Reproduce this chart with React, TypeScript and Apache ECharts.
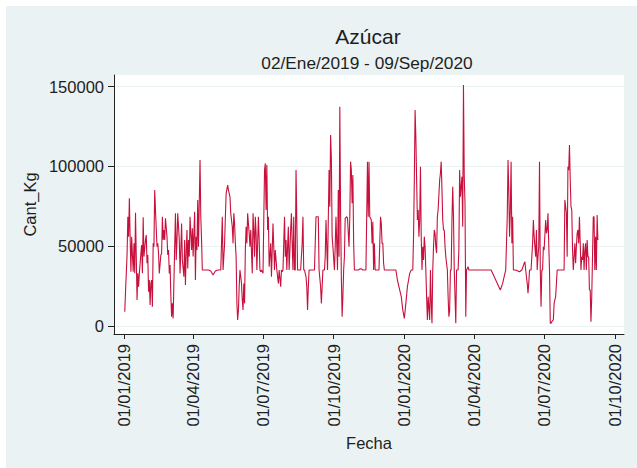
import React, { useEffect, useRef } from "react";
import * as echarts from "echarts";

const titleText = "Azúcar";
const subtitleText = "02/Ene/2019 - 09/Sep/2020";
const xAxisName = "Fecha";
const yAxisName = "Cant_Kg";

const fechas = [
  "2019-01-02","2019-01-03","2019-01-05","2019-01-06","2019-01-07","2019-01-08","2019-01-09","2019-01-10","2019-01-11","2019-01-12",
  "2019-01-13","2019-01-14","2019-01-15","2019-01-16","2019-01-17","2019-01-18","2019-01-19","2019-01-20","2019-01-21","2019-01-23",
  "2019-01-24","2019-01-25","2019-01-26","2019-01-27","2019-01-29","2019-01-30","2019-01-31","2019-02-01","2019-02-02","2019-02-03",
  "2019-02-04","2019-02-05","2019-02-06","2019-02-07","2019-02-08","2019-02-09","2019-02-10","2019-02-11","2019-02-13","2019-02-14",
  "2019-02-15","2019-02-16","2019-02-18","2019-02-19","2019-02-20","2019-02-21","2019-02-22","2019-02-23","2019-02-24","2019-02-26",
  "2019-02-27","2019-02-28","2019-03-01","2019-03-02","2019-03-03","2019-03-04","2019-03-05","2019-03-06","2019-03-08","2019-03-09",
  "2019-03-10","2019-03-11","2019-03-12","2019-03-14","2019-03-15","2019-03-16","2019-03-17","2019-03-18","2019-03-20","2019-03-21",
  "2019-03-22","2019-03-23","2019-03-24","2019-03-25","2019-03-26","2019-03-27","2019-03-28","2019-03-30","2019-03-31","2019-04-01",
  "2019-04-03","2019-04-04","2019-04-05","2019-04-06","2019-04-07","2019-04-08","2019-04-10","2019-04-11","2019-04-12","2019-04-13",
  "2019-04-16","2019-04-21","2019-04-24","2019-04-27","2019-04-30","2019-05-03","2019-05-07","2019-05-09","2019-05-10","2019-05-12",
  "2019-05-13","2019-05-14","2019-05-16","2019-05-17","2019-05-19","2019-05-20","2019-05-22","2019-05-23","2019-05-24","2019-05-25",
  "2019-05-26","2019-05-27","2019-05-28","2019-05-29","2019-05-30","2019-05-31","2019-06-01","2019-06-03","2019-06-04","2019-06-05",
  "2019-06-06","2019-06-07","2019-06-08","2019-06-09","2019-06-10","2019-06-11","2019-06-13","2019-06-14","2019-06-15","2019-06-17",
  "2019-06-18","2019-06-19","2019-06-20","2019-06-21","2019-06-22","2019-06-23","2019-06-25","2019-06-26","2019-06-27","2019-06-28",
  "2019-06-29","2019-07-01","2019-07-02","2019-07-03","2019-07-04","2019-07-05","2019-07-06","2019-07-07","2019-07-08","2019-07-09",
  "2019-07-11","2019-07-12","2019-07-13","2019-07-14","2019-07-15","2019-07-16","2019-07-17","2019-07-18","2019-07-19","2019-07-20",
  "2019-07-21","2019-07-22","2019-07-24","2019-07-25","2019-07-26","2019-07-27","2019-07-29","2019-07-30","2019-07-31","2019-08-01",
  "2019-08-02","2019-08-03","2019-08-04","2019-08-06","2019-08-07","2019-08-08","2019-08-09","2019-08-10","2019-08-11","2019-08-12",
  "2019-08-13","2019-08-14","2019-08-15","2019-08-17","2019-08-19","2019-08-21","2019-08-22","2019-08-23","2019-08-24","2019-08-26",
  "2019-08-27","2019-08-28","2019-08-29","2019-08-30","2019-09-01","2019-09-04","2019-09-06","2019-09-07","2019-09-08","2019-09-10",
  "2019-09-11","2019-09-12","2019-09-14","2019-09-15","2019-09-16","2019-09-17","2019-09-19","2019-09-20","2019-09-21","2019-09-22",
  "2019-09-23","2019-09-25","2019-09-26","2019-09-27","2019-09-28","2019-09-29","2019-09-30","2019-10-02","2019-10-03","2019-10-04",
  "2019-10-06","2019-10-07","2019-10-08","2019-10-09","2019-10-10","2019-10-11","2019-10-12","2019-10-13","2019-10-14","2019-10-15",
  "2019-10-16","2019-10-18","2019-10-19","2019-10-21","2019-10-22","2019-10-23","2019-10-24","2019-10-25","2019-10-26","2019-10-27",
  "2019-10-28","2019-10-29","2019-10-31","2019-11-02","2019-11-04","2019-11-06","2019-11-08","2019-11-10","2019-11-12","2019-11-13",
  "2019-11-14","2019-11-15","2019-11-16","2019-11-17","2019-11-19","2019-11-20","2019-11-21","2019-11-22","2019-11-23","2019-11-24",
  "2019-11-25","2019-11-27","2019-11-29","2019-12-01","2019-12-02","2019-12-03","2019-12-04","2019-12-05","2019-12-06","2019-12-12",
  "2019-12-17","2019-12-21","2019-12-23","2019-12-28","2019-12-30","2020-01-01","2020-01-03","2020-01-05","2020-01-08","2020-01-10",
  "2020-01-12","2020-01-13","2020-01-14","2020-01-15","2020-01-16","2020-01-17","2020-01-18","2020-01-19","2020-01-20","2020-01-21",
  "2020-01-22","2020-01-23","2020-01-24","2020-01-25","2020-01-26","2020-01-27","2020-01-28","2020-01-29","2020-01-30","2020-01-31",
  "2020-02-01","2020-02-03","2020-02-04","2020-02-05","2020-02-06","2020-02-07","2020-02-08","2020-02-09","2020-02-10","2020-02-11",
  "2020-02-12","2020-02-13","2020-02-14","2020-02-16","2020-02-17","2020-02-18","2020-02-19","2020-02-20","2020-02-21","2020-02-22",
  "2020-02-23","2020-02-24","2020-02-26","2020-02-27","2020-02-28","2020-02-29","2020-03-01","2020-03-02","2020-03-03","2020-03-04",
  "2020-03-05","2020-03-06","2020-03-07","2020-03-08","2020-03-09","2020-03-10","2020-03-11","2020-03-12","2020-03-13","2020-03-14",
  "2020-03-16","2020-03-17","2020-03-18","2020-03-19","2020-03-20","2020-03-21","2020-03-22","2020-03-24","2020-03-25","2020-03-27",
  "2020-04-03","2020-04-12","2020-04-23","2020-05-05","2020-05-08","2020-05-10","2020-05-12","2020-05-14","2020-05-15","2020-05-16",
  "2020-05-17","2020-05-18","2020-05-19","2020-05-20","2020-05-21","2020-05-22","2020-05-25","2020-05-30","2020-06-02","2020-06-05",
  "2020-06-06","2020-06-07","2020-06-09","2020-06-10","2020-06-11","2020-06-12","2020-06-14","2020-06-16","2020-06-17","2020-06-18",
  "2020-06-20","2020-06-21","2020-06-22","2020-06-23","2020-06-24","2020-06-25","2020-06-26","2020-06-27","2020-06-28","2020-06-29",
  "2020-06-30","2020-07-01","2020-07-03","2020-07-04","2020-07-05","2020-07-06","2020-07-07","2020-07-08","2020-07-09","2020-07-10",
  "2020-07-11","2020-07-13","2020-07-14","2020-07-16","2020-07-17","2020-07-18","2020-07-21","2020-07-25","2020-07-27","2020-07-28",
  "2020-07-30","2020-07-31","2020-08-01","2020-08-02","2020-08-03","2020-08-04","2020-08-05","2020-08-06","2020-08-07","2020-08-08",
  "2020-08-09","2020-08-10","2020-08-11","2020-08-12","2020-08-13","2020-08-14","2020-08-15","2020-08-16","2020-08-17","2020-08-18",
  "2020-08-19","2020-08-20","2020-08-21","2020-08-22","2020-08-23","2020-08-24","2020-08-25","2020-08-26","2020-08-27","2020-08-28",
  "2020-08-29","2020-08-30","2020-08-31","2020-09-01","2020-09-02","2020-09-03","2020-09-04","2020-09-05","2020-09-06","2020-09-07",
  "2020-09-08","2020-09-09"
];

const cantKg = [
  9000,21500,44500,68500,56000,80000,56000,34000,56000,44500,
  34000,51800,33000,71000,43500,16300,33000,24600,33000,45500,
  50700,33000,68100,43500,53900,57000,39300,44500,21500,28800,
  13200,26700,28800,12100,51800,49700,85200,72700,49700,51800,
  45500,33000,44500,45500,68500,53900,60100,53900,67500,56000,
  44500,47600,33000,38200,19400,5800,14200,4800,49700,70600,
  41400,53900,70600,53900,33000,47600,64300,41400,30900,53900,
  25700,45500,60100,36100,53900,43500,68500,47600,61200,43500,
  71600,28800,56000,47600,79000,49700,104000,68500,53900,35100,
  35100,35100,34500,32000,34500,35100,35100,68500,35100,51800,
  68500,83100,88300,85200,81000,70600,62200,51800,70600,64300,
  51800,43400,14200,3800,10000,24600,35100,26700,16300,10000,
  26700,14200,47600,62200,51800,70600,58100,49700,60200,33000,
  70600,60200,43400,68500,58100,35100,68500,53900,35100,34000,
  35100,33000,66400,97700,101900,72700,100900,60200,68500,37200,
  51800,30900,47600,64300,49700,35100,47600,41400,35100,30900,
  26700,35100,24600,35100,34000,35100,68500,43400,53900,35100,
  49700,62200,35100,60200,70600,51800,35100,68500,35100,35100,
  97700,66400,35100,35100,35100,51800,68500,35100,35100,30900,
  24600,10000,24600,35100,35100,35100,35100,51800,68500,68500,
  68500,35100,24600,14200,24600,35100,35100,43400,66400,49700,
  35100,97700,74800,119700,105000,56000,49700,35100,49700,68500,
  35100,85200,43400,137400,70600,30900,5800,18400,35100,43400,
  67500,68500,67500,49700,68500,103000,97700,76900,94600,51800,
  35100,35100,35100,35100,35800,35800,35100,35100,35100,68500,
  103000,68500,103000,68500,66400,51800,65400,35100,51800,35100,
  35100,35100,35100,68500,64300,51800,51800,39300,35100,35100,
  35100,35100,28800,18400,10000,4800,14200,24600,33000,35100,
  35100,56000,91500,135300,118600,91500,66400,72700,56000,66400,
  99800,56000,35100,49700,41400,56000,49700,35100,18400,3800,
  18400,3800,35100,14200,1700,35100,49700,60200,58100,49700,
  45700,68500,72700,91500,95700,103000,85200,66400,60200,60200,
  49700,43400,35100,18400,5800,10000,35100,35100,66400,87300,
  68500,35100,18400,1700,35100,35100,35100,47600,97700,81000,
  93600,62200,151000,93600,76900,5800,35100,37200,35100,35100,
  35100,35100,35100,22600,26700,30900,35100,68500,104000,85200,
  56000,72700,103000,51800,68500,35100,35100,34000,35100,39300,
  40300,35100,26700,20500,26700,35100,35100,51800,66400,56000,
  43400,60200,35100,43400,49700,103000,35100,12100,35100,35100,
  49700,47600,66400,58100,60200,70600,51800,35100,1700,1700,
  2700,3800,14200,18400,26700,35100,35100,35100,35100,79000,
  70600,43400,99800,97700,113400,91500,74800,72700,47600,35100,
  43400,51800,39300,49700,58100,60200,51800,68500,51800,35100,
  43400,41400,51800,35100,47600,51800,35100,53900,43400,43400,
  22600,22600,2700,18400,43400,68500,68500,35100,56000,35100,
  69600,53900
];

const xTickDates = ["2019-01-01","2019-04-01","2019-07-01","2019-10-01","2020-01-01","2020-04-01","2020-07-01","2020-10-01"];
const yTicks = [0, 50000, 100000, 150000];
const xRange = ["2018-12-19", "2020-10-13"];
const yRange = [-5000, 157300];

const FONT = "'Liberation Sans', Arial, sans-serif";
const TEXT = "#1e1e1e";
const LINE = "#C8103C";
const BG = "#EAF2F3";

function toTime(s: string): number {
  const [y, m, d] = s.split("-").map(Number);
  return new Date(y, m - 1, d).getTime();
}

function fmtDate(v: number): string {
  const d = new Date(v);
  const dd = String(d.getDate()).padStart(2, "0");
  const mm = String(d.getMonth() + 1).padStart(2, "0");
  return `${dd}/${mm}/${d.getFullYear()}`;
}

export default function App() {
  const ref = useRef<HTMLDivElement>(null);
  useEffect(() => {
    if (!ref.current) return;
    const chart = echarts.init(ref.current, null, { renderer: "svg" });
    const data = fechas.map((f, i) => [toTime(f), cantKg[i]]);
    const xTicks = xTickDates.map(toTime);
    chart.setOption({
      animation: false,
      backgroundColor: BG,
      title: [
        {
          text: titleText,
          left: 357,
          top: 15,
          textAlign: "center",
          textStyle: { fontSize: 21, fontWeight: "normal", color: TEXT, fontFamily: FONT },
        },
        {
          text: subtitleText,
          left: 356,
          top: 43,
          textAlign: "center",
          textStyle: { fontSize: 17.3, fontWeight: "normal", color: TEXT, fontFamily: FONT },
        },
      ],
      grid: {
        left: 108,
        top: 69,
        width: 510,
        height: 259,
        show: true,
        backgroundColor: "#ffffff",
        borderWidth: 0,
      },
      xAxis: {
        type: "value",
        min: toTime(xRange[0]),
        max: toTime(xRange[1]),
        name: xAxisName,
        nameLocation: "middle",
        nameGap: 96,
        nameTextStyle: { fontSize: 16.5, color: TEXT, fontFamily: FONT },
        axisLine: { show: true, onZero: false, lineStyle: { color: "#222", width: 1 } },
        axisTick: { show: true, length: 5, lineStyle: { color: "#222" }, customValues: xTicks },
        axisLabel: {
          customValues: xTicks,
          rotate: 90,
          margin: 10,
          fontSize: 16.5,
          color: TEXT,
          fontFamily: FONT,
          formatter: (v: number) => fmtDate(v),
          hideOverlap: false,
        },
        splitLine: { show: false },
      },
      yAxis: {
        type: "value",
        min: yRange[0],
        max: yRange[1],
        name: yAxisName,
        nameLocation: "middle",
        nameRotate: 90,
        nameGap: 70,
        nameTextStyle: { fontSize: 16.5, color: TEXT, fontFamily: FONT },
        axisLine: { show: true, onZero: false, lineStyle: { color: "#222", width: 1 } },
        axisTick: { show: true, length: 6, lineStyle: { color: "#222" }, customValues: yTicks },
        axisLabel: {
          customValues: yTicks,
          margin: 10,
          fontSize: 16.5,
          color: TEXT,
          fontFamily: FONT,
          formatter: (v: number) => String(v),
        },
        splitLine: { show: true, lineStyle: { color: BG, width: 1 } },
      },
      series: [
        {
          type: "line",
          data,
          showSymbol: false,
          symbol: "none",
          lineStyle: { color: LINE, width: 1.1 },
          itemStyle: { color: LINE },
        },
      ],
    });
    return () => chart.dispose();
  }, []);
  return (
    <div style={{ position: "fixed", left: 0, top: 0, width: 637, height: 468, background: "#ffffff" }}>
      <div ref={ref} style={{ position: "absolute", left: 6, top: 6, width: 631, height: 462 }} />
    </div>
  );
}
